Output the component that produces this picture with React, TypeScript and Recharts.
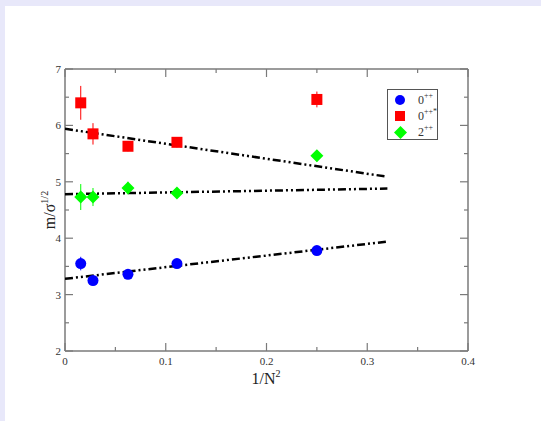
import {
  ScatterChart,
  Scatter,
  XAxis,
  YAxis,
  ErrorBar,
} from "recharts";

const xs = [1 / 64, 1 / 36, 1 / 16, 1 / 9, 1 / 4];
const glueball0 = [3.55, 3.25, 3.36, 3.55, 3.78];
const glueball0Err = [0.12, 0.09, 0.06, 0.06, 0.06];
const glueball0s = [6.4, 5.85, 5.63, 5.7, 6.46];
const glueball0sErr = [0.3, 0.19, 0.09, 0.09, 0.14];
const glueball2 = [4.73, 4.73, 4.89, 4.8, 5.46];
const glueball2Err = [0.23, 0.16, 0.11, 0.08, 0.1];

const fitX = [0, 0.32];
const fit0 = [3.28, 3.94];
const fit0s = [5.94, 5.09];
const fit2 = [4.78, 4.88];

const xTicks = [0, 0.05, 0.1, 0.15, 0.2, 0.25, 0.3, 0.35, 0.4];
const yTicks = [2, 2.5, 3, 3.5, 4, 4.5, 5, 5.5, 6, 6.5, 7];

const toPoints = (ys: number[], errs: number[]) =>
  xs.map((x, i) => ({ x, y: ys[i], err: errs[i] }));
const toLine = (ys: number[]) => fitX.map((x, i) => ({ x, y: ys[i] }));

const AXIS = "#7a7a7a";
const FONT = "'Liberation Serif', 'DejaVu Serif', serif";
const DASH = "8 3 2 3 2 3";

const isMajor = (v: number) => Math.abs(v * 10 - Math.round(v * 10)) < 1e-6;
const isInt = (v: number) => Math.abs(v - Math.round(v)) < 1e-6;

function BottomTick({ x, y, payload }: any) {
  const major = isMajor(payload.value);
  return (
    <g>
      <line x1={x} x2={x} y1={y} y2={y - (major ? 8 : 4)} stroke={AXIS} strokeWidth={1.2} />
      {major && (
        <text x={x} y={y + 14} textAnchor="middle" fontSize={11} fontFamily={FONT} fill="#333">
          {Number(payload.value.toFixed(1)) === 0 ? "0" : payload.value.toFixed(1)}
        </text>
      )}
    </g>
  );
}

function TopTick({ x, y, payload }: any) {
  const major = isMajor(payload.value);
  return <line x1={x} x2={x} y1={y} y2={y + (major ? 8 : 4)} stroke={AXIS} strokeWidth={1.2} />;
}

function LeftTick({ x, y, payload }: any) {
  const major = isInt(payload.value);
  return (
    <g>
      <line x1={x} x2={x + (major ? 8 : 4)} y1={y} y2={y} stroke={AXIS} strokeWidth={1.2} />
      {major && (
        <text x={x - 4} y={y + 4} textAnchor="end" fontSize={11} fontFamily={FONT} fill="#333">
          {payload.value}
        </text>
      )}
    </g>
  );
}

function RightTick({ x, y, payload }: any) {
  const major = isInt(payload.value);
  return <line x1={x} x2={x - (major ? 8 : 4)} y1={y} y2={y} stroke={AXIS} strokeWidth={1.2} />;
}

const Circle = ({ cx, cy }: any) => <circle cx={cx} cy={cy} r={5.5} fill="#0000ff" />;
const Square = ({ cx, cy }: any) => (
  <rect x={cx - 5.5} y={cy - 5.5} width={11} height={11} fill="#ff0000" />
);
const Diamond = ({ cx, cy }: any) => (
  <path d={`M${cx},${cy - 6.5}L${cx + 6.5},${cy}L${cx},${cy + 6.5}L${cx - 6.5},${cy}Z`} fill="#00ff00" />
);
const NoShape = () => <g />;

function LegendBox() {
  const row = (sym: any, label: any) => (
    <div style={{ display: "flex", alignItems: "center", height: 16 }}>
      <div style={{ width: 24, display: "flex", justifyContent: "center" }}>{sym}</div>
      <div style={{ marginLeft: 6 }}>{label}</div>
    </div>
  );
  const sup = { fontSize: 8, verticalAlign: "top", lineHeight: "8px" } as const;
  return (
    <div
      style={{
        position: "absolute",
        left: 387,
        top: 89,
        border: "1px solid #555",
        width: 49,
        height: 47,
        padding: "2px 0 0 0",
        background: "#fff",
        fontFamily: FONT,
        fontSize: 12,
        color: "#333",
        lineHeight: "16px",
      }}
    >
      {row(
        <svg width={12} height={12}><circle cx={6} cy={6} r={5} fill="#0000ff" /></svg>,
        <span>0<span style={sup}>++</span></span>
      )}
      {row(
        <svg width={12} height={12}><rect x={1} y={1} width={10} height={10} fill="#ff0000" /></svg>,
        <span>0<span style={sup}>++*</span></span>
      )}
      {row(
        <svg width={13} height={13}><path d="M6.5,0L13,6.5L6.5,13L0,6.5Z" fill="#00ff00" /></svg>,
        <span>2<span style={sup}>++</span></span>
      )}
    </div>
  );
}

const YLabel = () => (
  <text
    x={50}
    y={204}
    transform="rotate(-90 50 204)"
    textAnchor="middle"
    fontFamily={FONT}
    fontSize={16}
    fill="#222"
  >
    m/σ
    <tspan dy={-7} fontSize={10}>1/2</tspan>
  </text>
);

const XLabel = () => (
  <text x={261} y={378} textAnchor="middle" fontFamily={FONT} fontSize={16} fill="#222">
    1/N
    <tspan dy={-7} fontSize={10}>2</tspan>
  </text>
);

export default function App() {
  const lineStyle = { stroke: "#000", strokeWidth: 2.5, strokeDasharray: DASH };
  return (
    <div
      style={{
        position: "absolute",
        left: 0,
        top: 0,
        width: 541,
        height: 421,
        background: "#e8e8fa",
      }}
    >
      <div style={{ position: "absolute", left: 5, top: 6, width: 536, height: 415, background: "#fff" }}>
        <ScatterChart
          width={536}
          height={415}
          margin={{ top: 62, right: 72, left: 0, bottom: 0 }}
        >
          <XAxis
            type="number"
            dataKey="x"
            domain={[0, 0.4]}
            ticks={xTicks}
            interval={0}
            height={70}
            tickSize={0}
            tickMargin={0}
            tick={<BottomTick />}
            axisLine={{ stroke: AXIS, strokeWidth: 1.5 }}
            allowDataOverflow
            label={<XLabel />}
          />
          <XAxis
            xAxisId="top"
            orientation="top"
            type="number"
            dataKey="x"
            domain={[0, 0.4]}
            ticks={xTicks}
            interval={0}
            height={1}
            tickSize={0}
            tickMargin={0}
            tick={<TopTick />}
            axisLine={{ stroke: AXIS, strokeWidth: 1.5 }}
            allowDataOverflow
          />
          <YAxis
            type="number"
            dataKey="y"
            domain={[2, 7]}
            ticks={yTicks}
            interval={0}
            width={60}
            tickSize={0}
            tickMargin={0}
            tick={<LeftTick />}
            axisLine={{ stroke: AXIS, strokeWidth: 1.5 }}
            allowDataOverflow
            label={<YLabel />}
          />
          <YAxis
            yAxisId="right"
            orientation="right"
            type="number"
            dataKey="y"
            domain={[2, 7]}
            ticks={yTicks}
            interval={0}
            width={1}
            tickSize={0}
            tickMargin={0}
            tick={<RightTick />}
            axisLine={{ stroke: AXIS, strokeWidth: 1.5 }}
            allowDataOverflow
          />
          <Scatter
            xAxisId="top"
            yAxisId="right"
            data={toLine(fit2)}
            shape={<NoShape />}
            legendType="none"
            isAnimationActive={false}
          />
          <Scatter data={toLine(fit0s)} shape={<NoShape />} line={lineStyle} legendType="none" isAnimationActive={false} />
          <Scatter data={toLine(fit2)} shape={<NoShape />} line={lineStyle} legendType="none" isAnimationActive={false} />
          <Scatter data={toLine(fit0)} shape={<NoShape />} line={lineStyle} legendType="none" isAnimationActive={false} />
          <Scatter name="0++" data={toPoints(glueball0, glueball0Err)} shape={<Circle />} isAnimationActive={false}>
            <ErrorBar dataKey="err" direction="y" width={0} stroke="#0000ff" strokeWidth={1} />
          </Scatter>
          <Scatter name="0++*" data={toPoints(glueball0s, glueball0sErr)} shape={<Square />} isAnimationActive={false}>
            <ErrorBar dataKey="err" direction="y" width={0} stroke="#ff0000" strokeWidth={1} />
          </Scatter>
          <Scatter name="2++" data={toPoints(glueball2, glueball2Err)} shape={<Diamond />} isAnimationActive={false}>
            <ErrorBar dataKey="err" direction="y" width={0} stroke="#00ff00" strokeWidth={1} />
          </Scatter>
        </ScatterChart>
      </div>
      <LegendBox />
    </div>
  );
}
